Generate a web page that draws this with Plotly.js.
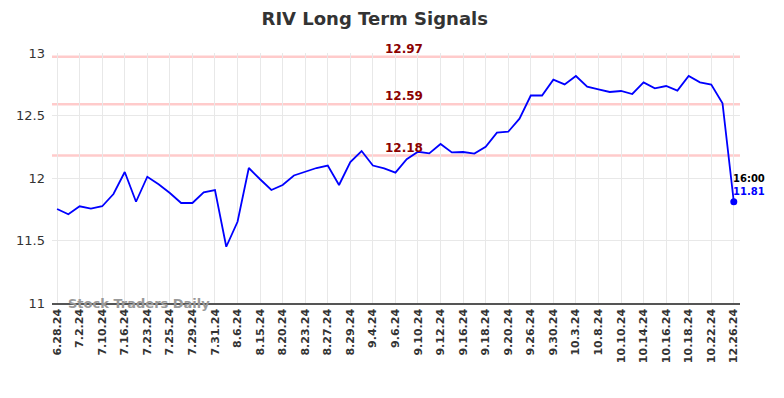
<!DOCTYPE html>
<html>
<head>
<meta charset="utf-8">
<script src="https://cdn.plot.ly/plotly-3.0.1.min.js"></script>
<style>html,body{margin:0;padding:0;background:#fff;}#chart{width:784px;height:398px;}</style>
</head>
<body>
<div id="chart"></div>
<script>
const tickLabels = ["6.28.24","7.2.24","7.10.24","7.16.24","7.23.24","7.25.24","7.29.24","7.31.24","8.6.24","8.15.24","8.20.24","8.23.24","8.27.24","8.29.24","9.4.24","9.6.24","9.10.24","9.12.24","9.16.24","9.18.24","9.20.24","9.26.24","9.30.24","10.3.24","10.8.24","10.10.24","10.14.24","10.16.24","10.18.24","10.22.24","12.26.24"];
const prices = [11.752,11.71,11.774,11.755,11.774,11.872,12.048,11.81,12.01,11.95,11.88,11.80,11.80,11.885,11.904,11.45,11.65,12.08,11.99,11.904,11.944,12.02,12.05,12.08,12.10,11.944,12.128,12.216,12.10,12.077,12.043,12.15,12.21,12.197,12.272,12.205,12.208,12.195,12.25,12.363,12.37,12.475,12.66,12.66,12.787,12.749,12.816,12.73,12.709,12.688,12.696,12.672,12.765,12.717,12.736,12.699,12.816,12.765,12.747,12.597,11.81];
const signalLevels = [12.97, 12.59, 12.18];
const lastTime = "16:00";

const xIdx = prices.map((_, i) => i);
const tickPos = tickLabels.map((_, i) => i * 2);
const lastI = prices.length - 1;

const shapes = signalLevels.map(v => ({
  type: 'line', xref: 'paper', x0: 0, x1: 1, yref: 'y', y0: v, y1: v,
  line: {color: 'rgba(255,160,160,0.55)', width: 2.5}, layer: 'below'
}));

const annotations = signalLevels.map(v => ({
  x: 30.8, y: v, xref: 'x', yref: 'y', text: v.toFixed(2), showarrow: false,
  yanchor: 'bottom', yshift: -1,
  font: {family: 'DejaVu Sans', size: 12, color: '#8b0000', weight: 'bold'}
}));
annotations.push({
  x: lastI, y: prices[lastI], xref: 'x', yref: 'y', text: lastTime, showarrow: false,
  xanchor: 'left', yanchor: 'middle', xshift: -3, yshift: 23,
  font: {family: 'DejaVu Sans', size: 10, color: '#000', weight: 'bold'}
});
annotations.push({
  x: lastI, y: prices[lastI], xref: 'x', yref: 'y', text: prices[lastI].toFixed(2), showarrow: false,
  xanchor: 'left', yanchor: 'middle', xshift: -3, yshift: 10,
  font: {family: 'DejaVu Sans', size: 10, color: '#0000ff', weight: 'bold'}
});
annotations.push({
  x: 0.02, xref: 'paper', y: 11, yref: 'y', text: 'Stock Traders Daily', showarrow: false,
  xanchor: 'left', yanchor: 'middle',
  font: {family: 'DejaVu Sans', size: 13, color: '#999', weight: 'bold'}
});

const traces = [
  {x: xIdx, y: prices, type: 'scatter', mode: 'lines', line: {color: '#0000ff', width: 1.8}, hoverinfo: 'skip'},
  {x: [lastI], y: [prices[lastI]], type: 'scatter', mode: 'markers', marker: {color: '#0000ff', size: 7}, hoverinfo: 'skip'}
];

const layout = {
  width: 784, height: 398,
  margin: {l: 52, r: 44, t: 53, b: 95},
  paper_bgcolor: '#fff', plot_bgcolor: '#fff',
  showlegend: false,
  title: {text: 'RIV Long Term Signals', x: 0.478, xanchor: 'center', y: 0.97, yanchor: 'top',
          font: {family: 'DejaVu Sans', size: 18, color: '#333', weight: 'bold'}},
  xaxis: {range: [-0.45, 60.55], tickmode: 'array', tickvals: tickPos, ticktext: tickLabels,
          tickangle: -90, showgrid: true, gridcolor: '#e8e8e8', zeroline: false,
          showline: true, linecolor: '#555', linewidth: 1.5, ticks: '',
          tickfont: {family: 'DejaVu Sans', size: 11, color: '#333', weight: 'bold'}},
  yaxis: {range: [11, 13], tickvals: [11, 11.5, 12, 12.5, 13], ticktext: ['11','11.5','12','12.5','13'],
          showgrid: true, gridcolor: '#e8e8e8', zeroline: false, showline: false, ticks: '',
          ticklabelstandoff: 6,
          tickfont: {family: 'DejaVu Sans', size: 13, color: '#333'}},
  shapes: shapes,
  annotations: annotations
};

Plotly.newPlot('chart', traces, layout, {displayModeBar: false, staticPlot: true});
</script>
</body>
</html>
